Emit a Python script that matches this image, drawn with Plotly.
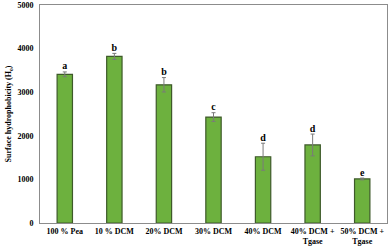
import plotly.graph_objects as go

categories = ["100 % Pea", "10 % DCM", "20% DCM", "30% DCM", "40% DCM",
              "40% DCM +<br>Tgase", "50% DCM +<br>Tgase"]
values = [3410, 3820, 3170, 2430, 1520, 1790, 1010]
errors = [55, 70, 165, 100, 310, 250, 20]
letters = ["a", "b", "b", "c", "d", "d", "e"]
y_ticks = [0, 1000, 2000, 3000, 4000, 5000]

font_family = "Liberation Serif, Times New Roman, serif"

fig = go.Figure()
fig.add_trace(go.Bar(
    x=categories, y=values, width=0.31,
    marker=dict(color="#6DB13E", line=dict(color="#3E5A2A", width=1.2)),
    error_y=dict(type="data", array=errors, visible=True, color="#7a7a7a",
                 thickness=1, width=2),
    showlegend=False, hoverinfo="skip",
))
fig.add_trace(go.Scatter(
    x=categories, y=[v + e for v, e in zip(values, errors)],
    mode="text", text=["<b>" + s + "</b>" for s in letters],
    textposition="top center",
    textfont=dict(family=font_family, size=10, color="black"),
    showlegend=False, cliponaxis=False, hoverinfo="skip",
))

fig.update_layout(
    width=390, height=248,
    margin=dict(l=40, r=3, t=5, b=25, autoexpand=False),
    paper_bgcolor="white", plot_bgcolor="white",
    font=dict(family=font_family, color="black"),
)
fig.update_xaxes(
    showline=True, linecolor="#8c8c8c", linewidth=1, mirror=True,
    showgrid=False, ticks="", automargin=False,
    tickfont=dict(family=font_family, size=8, color="black", weight="bold"),
    tickangle=0,
)
fig.update_yaxes(
    range=[0, 5000], tickvals=y_ticks, automargin=False,
    showline=True, linecolor="#8c8c8c", linewidth=1, mirror=True,
    showgrid=False, ticks="outside", ticklen=4, tickcolor="white",
    tickfont=dict(family=font_family, size=8, color="black", weight="bold"),
    title=dict(text="<b>Surface hydrophobicity (H<sub>o</sub>)</b>",
               font=dict(family=font_family, size=8, color="black"), standoff=4),
    zeroline=False,
)

fig.write_html("out.html", config={"displayModeBar": False},
               post_script="document.body.style.margin='0';document.body.style.overflow='hidden';")
